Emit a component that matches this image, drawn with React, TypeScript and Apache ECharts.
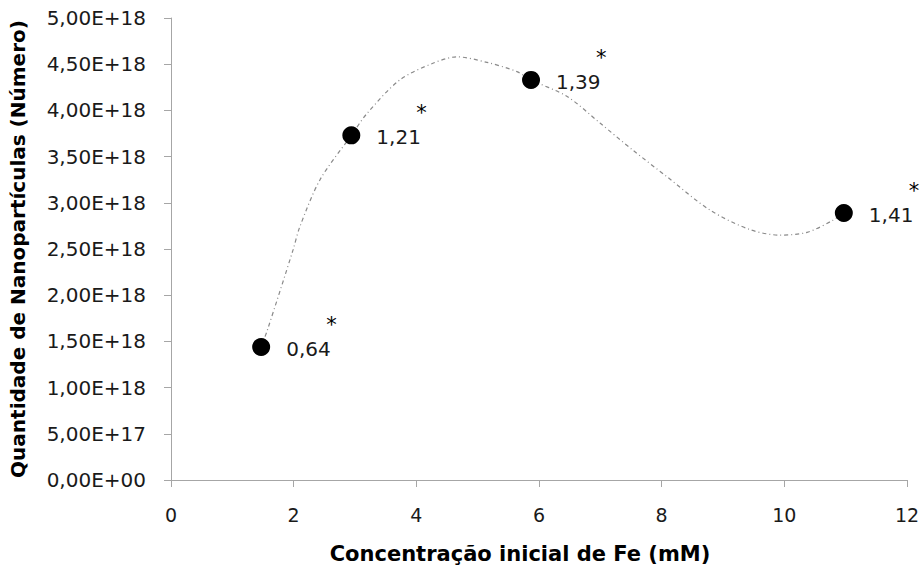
import React, { useEffect, useRef } from "react";
import * as echarts from "echarts";

// Measured points: initial Fe concentration (mM) vs nanoparticle count
const concentration = [1.47, 2.94, 5.87, 10.97];
const particles = [1.44e18, 3.73e18, 4.33e18, 2.89e18];
const pointLabels = ["0,64", "1,21", "1,39", "1,41"];

// Trend curve (x in mM, y in units of 1e18)
const trendX = [1.47, 1.57, 1.99, 2.10, 2.43, 2.94, 3.20, 3.73, 4.27, 4.66, 5.15, 5.64, 5.87, 6.46, 7.00, 7.53, 8.09, 8.79, 9.44, 9.93, 10.37, 10.79, 10.97];
const trendY = [1.44, 1.62, 2.49, 2.74, 3.25, 3.73, 3.97, 4.33, 4.51, 4.58, 4.52, 4.42, 4.33, 4.15, 3.86, 3.57, 3.28, 2.92, 2.71, 2.65, 2.68, 2.81, 2.89];

const xTicks = { min: 0, max: 12, interval: 2 };
const yTicks = { min: 0, max: 5e18, interval: 5e17 };

const FONT = "DejaVu Sans";

function sciLabel(v: number): string {
  if (v === 0) return "0,00E+00";
  const e = Math.floor(Math.log10(Math.abs(v)) + 1e-9);
  const m = v / Math.pow(10, e);
  const es = (e < 10 ? "0" : "") + e;
  return m.toFixed(2).replace(".", ",") + "E+" + es;
}

export default function App() {
  const ref = useRef<HTMLDivElement>(null);
  useEffect(() => {
    if (!ref.current) return;
    const chart = echarts.init(ref.current, undefined, { renderer: "svg" });
    const trendData = trendX.map((x, i) => [x, trendY[i] * 1e18]);
    const pts = concentration.map((x, i) => ({ value: [x, particles[i]], lbl: pointLabels[i] }));
    chart.setOption({
      animation: false,
      backgroundColor: "#ffffff",
      grid: { left: 171, right: 14, top: 18, bottom: 90, outerBoundsMode: "none", containLabel: false },
      xAxis: {
        type: "value",
        min: xTicks.min,
        max: xTicks.max,
        interval: xTicks.interval,
        name: "Concentração inicial de Fe (mM)",
        nameLocation: "middle",
        nameGap: 63,
        nameTextStyle: { fontFamily: FONT, fontSize: 21, fontWeight: "bold", color: "#000", padding: [0, 38, 0, 0] },
        axisLine: { show: true, lineStyle: { color: "#a6a6a6", width: 1 } },
        axisTick: { show: true, length: 7, lineStyle: { color: "#a6a6a6" } },
        axisLabel: { fontFamily: FONT, fontSize: 19, color: "#1a1a1a", margin: 25 },
        splitLine: { show: false },
      },
      yAxis: {
        type: "value",
        min: yTicks.min,
        max: yTicks.max,
        interval: yTicks.interval,
        name: "Quantidade de Nanopartículas (Número)",
        nameLocation: "middle",
        nameGap: 143,
        nameTextStyle: { fontFamily: FONT, fontSize: 20, fontWeight: "bold", color: "#000" },
        axisLine: { show: true, lineStyle: { color: "#a6a6a6", width: 1 } },
        axisTick: { show: true, length: 7, lineStyle: { color: "#a6a6a6" } },
        axisLabel: { fontFamily: FONT, fontSize: 20, color: "#1a1a1a", margin: 25, formatter: (v: number) => sciLabel(v) },
        splitLine: { show: false },
      },
      series: [
        {
          type: "line",
          data: trendData,
          smooth: 0.3,
          showSymbol: false,
          symbol: "none",
          z: 1,
          lineStyle: { color: "#8a8a8a", width: 1.2, type: [4, 3, 1, 3] },
          silent: true,
        },
        {
          type: "scatter",
          data: pts,
          symbolSize: 18,
          itemStyle: { color: "#000", opacity: 1 },
          z: 3,
          label: {
            show: true,
            position: "right",
            distance: 16,
            offset: [0, -10],
            formatter: (p: any) => "{a|*}\n{b|" + p.data.lbl + "}",
            rich: {
              a: { fontFamily: FONT, fontSize: 21, color: "#000", align: "right", lineHeight: 24 },
              b: { fontFamily: FONT, fontSize: 20, color: "#1a1a1a", align: "left", lineHeight: 24, padding: [0, 6, 0, 0] },
            },
          },
        },
      ],
    });
    return () => chart.dispose();
  }, []);
  return <div ref={ref} style={{ position: "absolute", left: 0, top: 0, width: 921, height: 570 }} />;
}
